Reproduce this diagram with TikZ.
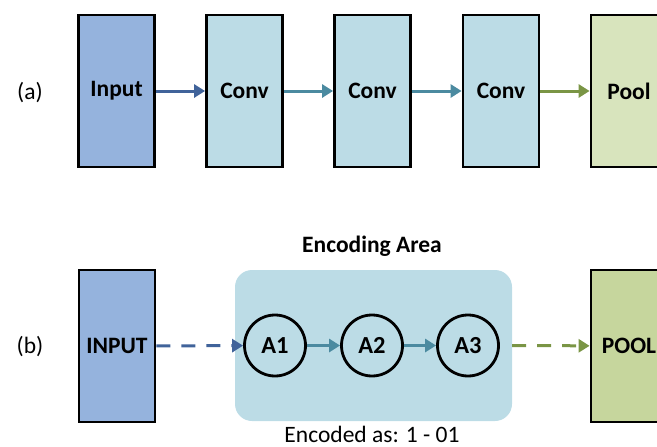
\documentclass[tikz,border=0pt]{standalone}
\usepackage{fontspec}
\setmainfont{Carlito}
\usepackage{tikz}
\usetikzlibrary{arrows.meta, positioning, shapes.geometric}
\definecolor{InBlue}{HTML}{95B3DD}
\definecolor{ConvBlue}{HTML}{BCDCE6}
\definecolor{PoolGreen}{HTML}{D8E4BD}
\definecolor{PoolDark}{HTML}{C6D69D}
\definecolor{ArrBlue}{HTML}{40639A}
\definecolor{ArrTeal}{HTML}{4B8AA0}
\definecolor{ArrGreen}{HTML}{7A9545}

\begin{document}
\begin{tikzpicture}[
  x=1pt, y=-1pt,
  font=\fontsize{23.5}{28}\selectfont,
  layer/.style={draw=black, line width=2.8pt, minimum width=76pt, minimum height=152pt, inner sep=0pt, font=\fontsize{23.5}{28}\selectfont\bfseries},
  unit/.style={circle, draw=black, line width=2.8pt, minimum size=61pt, inner sep=0pt, font=\fontsize{24.5}{28}\selectfont\bfseries},
  flow/.style={-{Triangle[length=11pt, width=13pt]}, line width=3pt},
  skip/.style={flow, dash pattern=on 14pt off 11pt}
]
\clip (0,0) rectangle (657,447);

% (a) plain chain
\node (la) at (30,93) {(a)};
\node[layer, fill=InBlue] (in) at (116.5,91) {Input};
\node[layer, fill=ConvBlue] (c1) at (244.5,91) {Conv};
\node[layer, fill=ConvBlue] (c2) at (372.5,91) {Conv};
\node[layer, fill=ConvBlue] (c3) at (501,91) {Conv};
\node[layer, fill=PoolGreen] (p) at (629,91) {Pool};

\draw[flow, ArrBlue] (in) -- (c1);
\draw[flow, ArrTeal] (c1) -- (c2);
\draw[flow, ArrTeal] (c2) -- (c3);
\draw[flow, ArrGreen] (c3) -- (p);

% (b) encoded chain
\node (lb) at (30,347) {(b)};
\node[layer, fill=InBlue] (inb) at (117,346) {INPUT};
\node[rounded corners=17pt, fill=ConvBlue, minimum width=277pt, minimum height=151pt, inner sep=0pt] (area) at (373.5,345.5) {};
\node[font=\fontsize{23.5}{28}\selectfont\bfseries] (title) at (372,246) {Encoding Area};
\node (code) at (372,434.5) {Encoded as: 1 - 01};
\node[unit] (a1) at (275,345.5) {A1};
\node[unit] (a2) at (372,345.5) {A2};
\node[unit] (a3) at (468,345.5) {A3};
\node[layer, fill=PoolDark] (pb) at (629,346) {POOL};

\draw[skip, ArrBlue] (inb) -- (a1);
\draw[flow, ArrTeal] (a1) -- (a2);
\draw[flow, ArrTeal] (a2) -- (a3);
\draw[skip, ArrGreen] (area.east) -- (pb);
\end{tikzpicture}
\end{document}
